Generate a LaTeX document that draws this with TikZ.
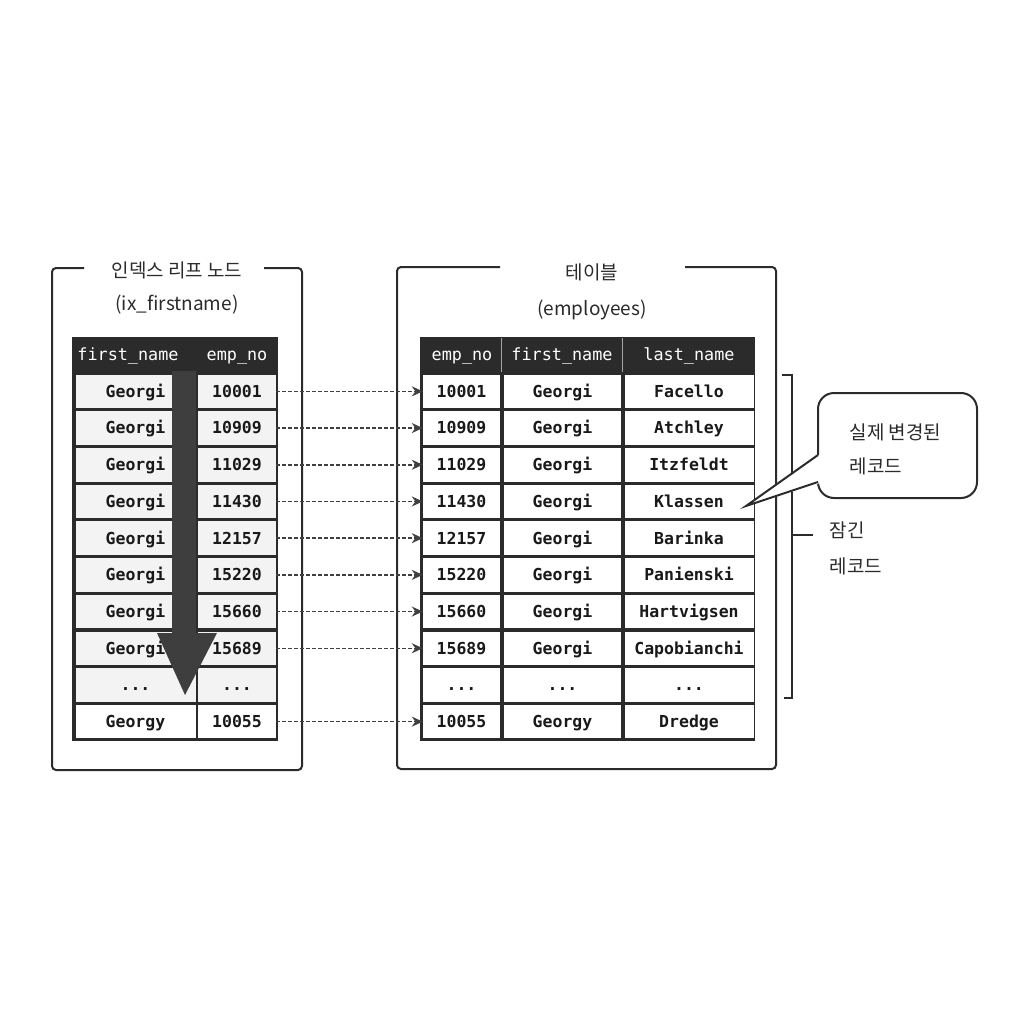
\documentclass[tikz,border=0pt]{standalone}
\usepackage{fontspec}
\setmonofont{DejaVu Sans Mono}
\newfontfamily\kr{Noto Sans CJK KR}
\usetikzlibrary{arrows.meta}
\definecolor{ink}{HTML}{2B2B2B}
\definecolor{cellgray}{HTML}{F3F3F3}
\definecolor{shaftc}{HTML}{3E3E3E}
\newcommand\mydots{...}
\begin{document}
\begin{tikzpicture}[x=1pt,y=-1pt,
  frame/.style={draw=ink, line width=2pt, rounded corners=4pt},
  cell/.style={fill=#1, inner sep=0pt, minimum height=33.5pt, text height=11.8pt, text depth=0pt, font=\ttfamily\bfseries\fontsize{16.5}{16}\selectfont, text=black!90},
  hdr/.style={text=white, text height=11.8pt, text depth=0pt, font=\ttfamily\fontsize{16.8}{16}\selectfont},
  ptr/.style={dash pattern=on 3.5pt off 2.5pt, line width=1.5pt, draw=ink!90, -{Stealth[length=11pt,width=10pt]}},
  title/.style={font=\kr\fontsize{19}{19}\selectfont, text=ink},
]
\useasboundingbox (0,0) rectangle (1024,1024);
\fill[white] (0,0) rectangle (1024,1024);

% outer frames
\draw[frame] (84,268) -- (52,268) -- (52,770) -- (302,770) -- (302,268) -- (264,268);
\draw[frame] (500,267) -- (397,267) -- (397,769) -- (776,769) -- (776,267) -- (685,267);

% titles
\node[title] (lt1) at (177,270) {인덱스 리프 노드};
\node[title] (lt2) at (177,305) {(ix\_firstname)};
\node[title] (rt1) at (592,272) {테이블};
\node[title] (rt2) at (592,310) {(employees)};

% left table
\fill[ink] (72,337) rectangle (278,741);
\node[hdr] (lh1) at (128,355) {first\_name};
\node[hdr] (lh2) at (237,355) {emp\_no};

% right table
\fill[ink] (420,337) rectangle (755,741);
\draw[gray!70, line width=0.8pt] (501.5,338) -- (501.5,372) (622.5,338) -- (622.5,372);
\node[hdr] (rh1) at (462,355) {emp\_no};
\node[hdr] (rh2) at (562,355) {first\_name};
\node[hdr] (rh3) at (689,355) {last\_name};

\foreach \i/\fn/\no/\fr/\ln/\fc in {
  1/Georgi/10001/Georgi/Facello/cellgray,
  2/Georgi/10909/Georgi/Atchley/cellgray,
  3/Georgi/11029/Georgi/Itzfeldt/cellgray,
  4/Georgi/11430/Georgi/Klassen/cellgray,
  5/Georgi/12157/Georgi/Barinka/cellgray,
  6/Georgi/15220/Georgi/Panienski/cellgray,
  7/Georgi/15660/Georgi/Hartvigsen/cellgray,
  8/Georgi/15689/Georgi/Capobianchi/cellgray,
  9/\mydots/\mydots/\mydots/\mydots/cellgray,
  10/Georgy/10055/Georgy/Dredge/white}{
  \pgfmathsetmacro{\yy}{373+36.7*(\i-0.5)}
  \node[cell=\fc, minimum width=120pt] (L\i a) at (135.5,\yy) {\fn};
  \node[cell=\fc, minimum width=78pt] (L\i b) at (237,\yy) {\no};
  \node[cell=white, minimum width=77pt] (R\i a) at (461.5,\yy) {\no};
  \node[cell=white, minimum width=117pt] (R\i b) at (562.5,\yy) {\fr};
  \node[cell=white, minimum width=129pt] (R\i c) at (689,\yy) {\ln};
}

% scan arrow
\fill[shaftc] (172,371) -- (196,371) -- (196,633) -- (217,633) -- (185,695) -- (157,633) -- (172,633) -- cycle;

% pointers
\foreach \i in {1,2,3,4,5,6,7,8,10}{
  \draw[ptr] (L\i b.east) -- (R\i a.west);
}

% bracket
\draw[ink, line width=2pt] (782,375) -- (792,375) -- (792,698) -- (784,698);
\coordinate (bm) at (792,535);
\draw[ink, line width=2pt] (bm) -- ++(21,0);
\node[title, anchor=west] (lk1) at (826,530) {잠긴};
\node[title, anchor=west] (lk2) at (826,566) {레코드};

% callout
\node[draw=ink, line width=2pt, rounded corners=16pt, minimum width=159pt, minimum height=105pt, fill=white] (cb) at (897.5,445.5) {};
\coordinate (tip) at (746,506);
\fill[white] (820,454) -- (tip) -- (820,483) -- cycle;
\draw[ink, line width=2pt] (818,455) -- (tip) -- (818,482);
\node[title, anchor=west] (c1) at (846,432) {실제 변경된};
\node[title, anchor=west] (c2) at (846,466) {레코드};
\end{tikzpicture}
\end{document}
